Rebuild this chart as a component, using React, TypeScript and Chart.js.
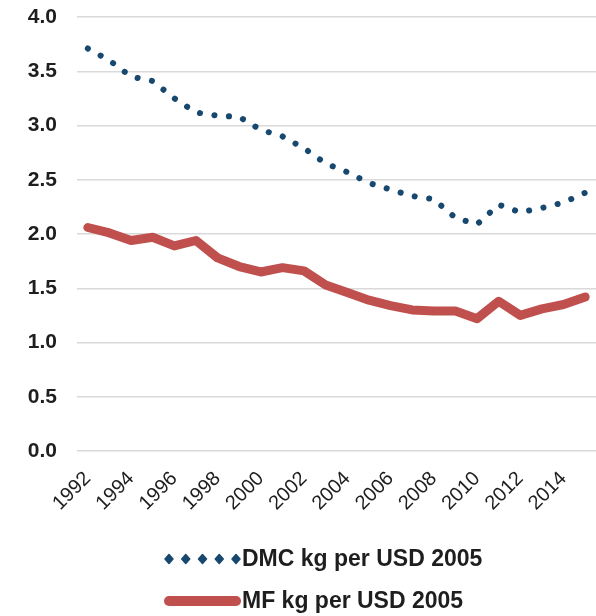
import React, { useEffect, useRef } from "react";
import { Chart, registerables } from "chart.js";

Chart.register(...registerables);

const years = [
  "1992", "1993", "1994", "1995", "1996", "1997", "1998", "1999",
  "2000", "2001", "2002", "2003", "2004", "2005", "2006", "2007",
  "2008", "2009", "2010", "2011", "2012", "2013", "2014", "2015",
];
const dmcValues = [
  3.71, 3.6, 3.45, 3.41, 3.25, 3.12, 3.09, 3.08, 2.96, 2.9, 2.79, 2.65,
  2.57, 2.47, 2.41, 2.35, 2.32, 2.15, 2.09, 2.27, 2.2, 2.24, 2.29, 2.38,
];
const mfValues = [
  2.06, 2.01, 1.94, 1.97, 1.89, 1.94, 1.78, 1.7, 1.65, 1.69, 1.66, 1.53,
  1.46, 1.39, 1.34, 1.3, 1.29, 1.29, 1.22, 1.38, 1.25, 1.31, 1.35, 1.42,
];
const seriesLabels = ["DMC kg per USD 2005", "MF kg per USD 2005"];
const yMin = 0;
const yMax = 4;
const yStep = 0.5;

const DMC_COLOR = "#17486f";
const MF_COLOR = "#c0504d";
const TEXT_COLOR = "#1e1e1e";
const FONT = "'Liberation Sans', Arial, sans-serif";

const legendPlugin = {
  id: "customLegend",
  afterDraw(chart: any) {
    const ctx = chart.ctx;
    ctx.save();
    const rows = [559, 601];
    const markerX0 = 169;
    const markerX1 = 236;
    chart.data.datasets.forEach((ds: any, i: number) => {
      const y = rows[i];
      if (i === 0) {
        ctx.fillStyle = ds.borderColor;
        ctx.strokeStyle = ds.borderColor;
        ctx.lineJoin = "round";
        ctx.lineWidth = 1.5;
        for (let k = 0; k < 5; k++) {
          const x = markerX0 + (k * (markerX1 - markerX0)) / 4;
          ctx.beginPath();
          ctx.moveTo(x, y - 4.5);
          ctx.lineTo(x + 4, y);
          ctx.lineTo(x, y + 4.5);
          ctx.lineTo(x - 4, y);
          ctx.closePath();
          ctx.fill();
          ctx.stroke();
        }
      } else {
        ctx.strokeStyle = ds.borderColor;
        ctx.lineWidth = 10;
        ctx.lineCap = "round";
        ctx.beginPath();
        ctx.moveTo(169, y);
        ctx.lineTo(236, y);
        ctx.stroke();
      }
      ctx.fillStyle = TEXT_COLOR;
      ctx.font = `bold 23px ${FONT}`;
      ctx.textAlign = "left";
      ctx.textBaseline = "middle";
      ctx.fillText(ds.label, 242, y + 1);
    });
    ctx.restore();
  },
};

export default function App() {
  const canvasRef = useRef<HTMLCanvasElement | null>(null);

  useEffect(() => {
    if (!canvasRef.current) return;
    const chart = new Chart(canvasRef.current, {
      type: "line",
      data: {
        labels: years,
        datasets: [
          {
            label: seriesLabels[0],
            data: dmcValues,
            borderColor: DMC_COLOR,
            backgroundColor: DMC_COLOR,
            borderWidth: 6,
            borderDash: [0.1, 14.5],
            borderCapStyle: "round",
            pointRadius: 0,
            tension: 0,
            fill: false,
          },
          {
            label: seriesLabels[1],
            data: mfValues,
            borderColor: MF_COLOR,
            backgroundColor: MF_COLOR,
            borderWidth: 9,
            borderCapStyle: "round",
            borderJoinStyle: "round",
            pointRadius: 0,
            tension: 0,
            fill: false,
          },
        ],
      },
      options: {
        animation: false,
        responsive: false,
        maintainAspectRatio: false,
        layout: { padding: { top: 17, right: 0, bottom: 0, left: 0 } },
        plugins: {
          legend: { display: false },
          tooltip: { enabled: false },
        },
        scales: {
          x: {
            type: "category",
            offset: true,
            grid: { display: false, drawTicks: false },
            border: { display: false },
            ticks: {
              autoSkip: false,
              maxRotation: 45,
              minRotation: 45,
              padding: 16,
              color: TEXT_COLOR,
              font: { family: FONT, size: 20 },
              callback: (_v: any, i: number) =>
                parseInt(years[i], 10) % 2 === 0 ? years[i] : "",
            },
            afterFit: (scale: any) => {
              scale.height = 165;
              scale.paddingLeft = 0;
              scale.paddingRight = 0;
            },
          },
          y: {
            min: yMin,
            max: yMax,
            grid: { color: "#d9d9d9", lineWidth: 1.5, drawTicks: false },
            border: { display: false },
            ticks: {
              stepSize: yStep,
              padding: 20,
              color: TEXT_COLOR,
              font: { family: FONT, size: 21, weight: "bold" },
              callback: (v: any) => Number(v).toFixed(1),
            },
            afterFit: (scale: any) => {
              scale.width = 77;
              scale.paddingTop = 0;
              scale.paddingBottom = 0;
            },
          },
        },
      },
      plugins: [legendPlugin],
    });
    return () => chart.destroy();
  }, []);

  return (
    <div style={{ position: "absolute", left: 0, top: 0, width: 596, height: 616, background: "#fff" }}>
      <canvas ref={canvasRef} width={596} height={616} style={{ display: "block" }} />
    </div>
  );
}
